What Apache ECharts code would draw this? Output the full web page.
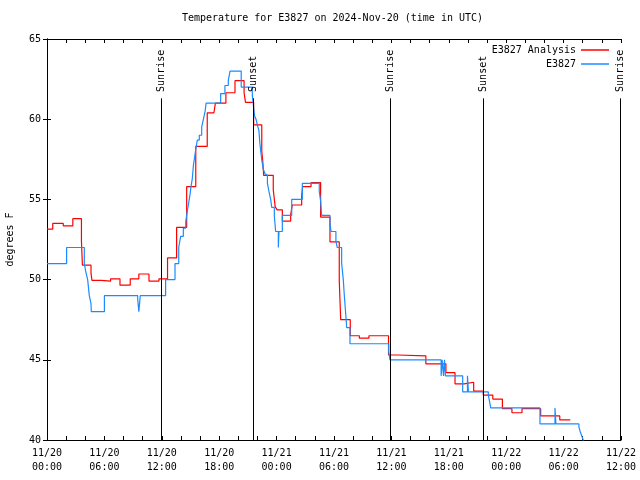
<!DOCTYPE html>
<html><head><meta charset="utf-8">
<script src="https://cdn.jsdelivr.net/npm/echarts@6/dist/echarts.min.js"></script>
<style>html,body{margin:0;padding:0;background:#fff}#c{width:640px;height:480px}</style>
</head><body><div id="c"></div>
<script>
// Hours since 2024-11-20 00:00 UTC
const analysisHours = [0, 0.6, 1.7, 2.7, 3.6, 3.7, 4.6, 4.7, 5.65, 6.65, 7.63, 8.7, 9.6, 10.66, 11.7, 12.6, 13.55, 14.6, 15.55, 16.75, 17.45, 17.6, 18.7, 19.65, 20.6, 20.75, 21.6, 22.45, 22.55, 22.65, 23.65, 23.85, 24.05, 24.6, 25.47, 25.64, 26.62, 26.72, 27.6, 28.6, 29.58, 30.55, 30.7, 31.7, 32.65, 33.65, 35.7, 36.65, 39.6, 41.7, 42.65, 43.6, 44.6, 45.6, 46.6, 47.6, 48.6, 49.65, 51.6, 53.6, 54.7];
const analysisTemps = [53.15, 53.5, 53.35, 53.8, 52.4, 50.9, 50.4, 49.95, 49.9, 50.05, 49.65, 50.05, 50.35, 49.9, 50.05, 51.35, 53.25, 55.8, 58.3, 60.4, 60.5, 61.0, 61.65, 62.4, 61.65, 61.05, 59.65, 58.0, 57.4, 56.5, 55.6, 54.55, 54.35, 53.65, 54.05, 54.65, 55.2, 55.8, 56.05, 53.9, 52.35, 49.95, 47.5, 46.5, 46.35, 46.5, 45.3, 45.25, 44.75, 44.2, 43.5, 43.6, 43.05, 42.8, 42.55, 41.95, 41.7, 41.95, 41.5, 41.25, 41.25];

const stationHours = [0, 2.05, 3.9, 4.05, 4.25, 4.42, 4.6, 4.63, 6.0, 9.48, 9.6, 9.75, 12.4, 13.38, 13.77, 13.97, 14.25, 14.5, 14.6, 14.77, 14.95, 15.05, 15.19, 15.3, 15.47, 15.57, 15.71, 15.92, 16.17, 16.35, 16.53, 16.63, 18.15, 18.6, 18.95, 19.13, 20.3, 21.46, 21.55, 21.7, 21.85, 22.0, 22.15, 22.25, 22.44, 22.6, 22.79, 22.9, 23.04, 23.2, 23.38, 23.49, 23.76, 23.83, 23.9, 24.18, 24.25, 24.6, 25.58, 26.69, 28.46, 28.6, 28.71, 29.58, 29.69, 30.2, 30.34, 30.8, 30.97, 31.08, 31.22, 31.33, 31.67, 35.72, 35.85, 41.2, 41.3, 41.45, 41.55, 41.65, 43.45, 43.95, 44.05, 46.13, 46.23, 46.38, 51.53, 53.1, 53.2, 55.6, 55.75, 55.9, 56.05, 56.2, 56.5];
const stationTemps = [51.0, 52.0, 51.0, 50.5, 50.0, 49.0, 48.5, 48.0, 49.0, 48.8, 48.0, 49.0, 50.0, 51.0, 52.0, 52.7, 53.2, 53.6, 54.0, 54.65, 55.3, 55.8, 56.3, 57.1, 57.8, 58.2, 58.7, 59.0, 59.5, 60.0, 60.5, 61.0, 61.6, 62.1, 62.4, 63.0, 62.0, 61.5, 61.0, 60.2, 60.0, 59.6, 59.3, 58.5, 57.5, 56.9, 56.6, 56.5, 56.0, 55.5, 55.0, 54.5, 54.0, 53.5, 53.0, 52.0, 53.0, 54.0, 55.0, 56.0, 55.5, 54.9, 54.0, 53.5, 53.0, 52.4, 52.0, 51.0, 50.0, 49.0, 47.9, 47.0, 46.0, 45.5, 45.0, 44.0, 45.0, 44.0, 45.0, 44.0, 43.0, 44.0, 43.0, 42.8, 42.5, 42.0, 41.0, 42.0, 41.0, 40.8, 40.5, 40.25, 40.0, 39.5, 39.0];

const xTickLabels = ['11/20\n00:00', '11/20\n06:00', '11/20\n12:00', '11/20\n18:00', '11/21\n00:00', '11/21\n06:00', '11/21\n12:00', '11/21\n18:00', '11/22\n00:00', '11/22\n06:00', '11/22\n12:00'];
const sunEventNames = ['Sunrise', 'Sunset', 'Sunrise', 'Sunset', 'Sunrise'];
const sunEventHours = [11.92, 21.55, 35.87, 45.6, 59.93];

const FONT = 'DejaVu Sans Mono';
const zip = (a, b) => a.map((v, i) => [v, b[i]]);

const chart = echarts.init(document.getElementById('c'), null, {renderer: 'canvas'});
const tickCommon = {
  axisLine: {show: true, lineStyle: {color: '#000', width: 1}},
  axisTick: {show: true, inside: true, length: 4, lineStyle: {color: '#000'}},
  splitLine: {show: false}
};
chart.setOption({
  animation: false,
  backgroundColor: '#fff',
  title: {
    text: 'Temperature for E3827 on 2024-Nov-20 (time in UTC)',
    left: 182, top: 13, padding: 0,
    textStyle: {fontFamily: FONT, fontSize: 10, fontWeight: 'normal', color: '#000'}
  },
  legend: {
    orient: 'vertical', right: 31, top: 45, align: 'right',
    icon: 'rect', itemWidth: 28, itemHeight: 1.5, itemGap: 4, padding: 0,
    textStyle: {fontFamily: FONT, fontSize: 10, color: '#000'},
    data: ['E3827 Analysis', 'E3827']
  },
  grid: {left: 47, right: 19, top: 39, bottom: 40, containLabel: false, outerBoundsMode: 'none'},
  xAxis: [{
    type: 'value', min: 0, max: 60, interval: 6, position: 'bottom',
    ...tickCommon,
    minorTick: {show: true, splitNumber: 3, length: 4, lineStyle: {color: '#000'}},
    axisLabel: {
      show: true, margin: 6, lineHeight: 14, fontFamily: FONT, fontSize: 10, color: '#000',
      showMinLabel: true, showMaxLabel: true,
      formatter: v => xTickLabels[Math.round(v / 6)]
    }
  }, {
    type: 'value', min: 0, max: 60, interval: 6, position: 'top',
    ...tickCommon,
    minorTick: {show: true, splitNumber: 3, length: 4, lineStyle: {color: '#000'}},
    axisLabel: {show: false}
  }],
  yAxis: [{
    type: 'value', min: 40, max: 65, interval: 5, position: 'left',
    ...tickCommon,
    name: 'degrees F', nameLocation: 'middle', nameGap: 32, nameRotate: 90,
    nameTextStyle: {fontFamily: FONT, fontSize: 10, color: '#000'},
    axisLabel: {show: true, margin: 6, fontFamily: FONT, fontSize: 10, color: '#000'}
  }, {
    type: 'value', min: 40, max: 65, interval: 5, position: 'right',
    ...tickCommon,
    axisLabel: {show: false}
  }],
  series: [{
    name: 'E3827 Analysis', type: 'line', step: 'end', symbol: 'none',
    xAxisIndex: 0, yAxisIndex: 0,
    lineStyle: {color: '#ff0000', width: 1.2}, itemStyle: {color: '#ff0000'},
    data: zip(analysisHours, analysisTemps),
    markLine: {
      silent: true, symbol: 'none', animation: false,
      lineStyle: {color: '#000', width: 1, type: 'solid'},
      label: {show: false},
      data: sunEventHours.map(h => [{coord: [h, 40]}, {coord: [h, 61.3]}])
    },
    markPoint: {
      silent: true, symbol: 'circle', symbolSize: 0, animation: false,
      label: {
        show: true, position: 'inside', rotate: 90, align: 'left', verticalAlign: 'middle',
        fontFamily: FONT, fontSize: 10, color: '#000', formatter: p => p.name
      },
      data: sunEventHours.map((h, i) => ({name: sunEventNames[i], coord: [h, 61.7]}))
    }
  }, {
    name: 'E3827', type: 'line', step: 'end', symbol: 'none',
    xAxisIndex: 0, yAxisIndex: 0,
    lineStyle: {color: '#1a8cff', width: 1.2}, itemStyle: {color: '#1a8cff'},
    data: zip(stationHours, stationTemps)
  }]
});
</script></body></html>
